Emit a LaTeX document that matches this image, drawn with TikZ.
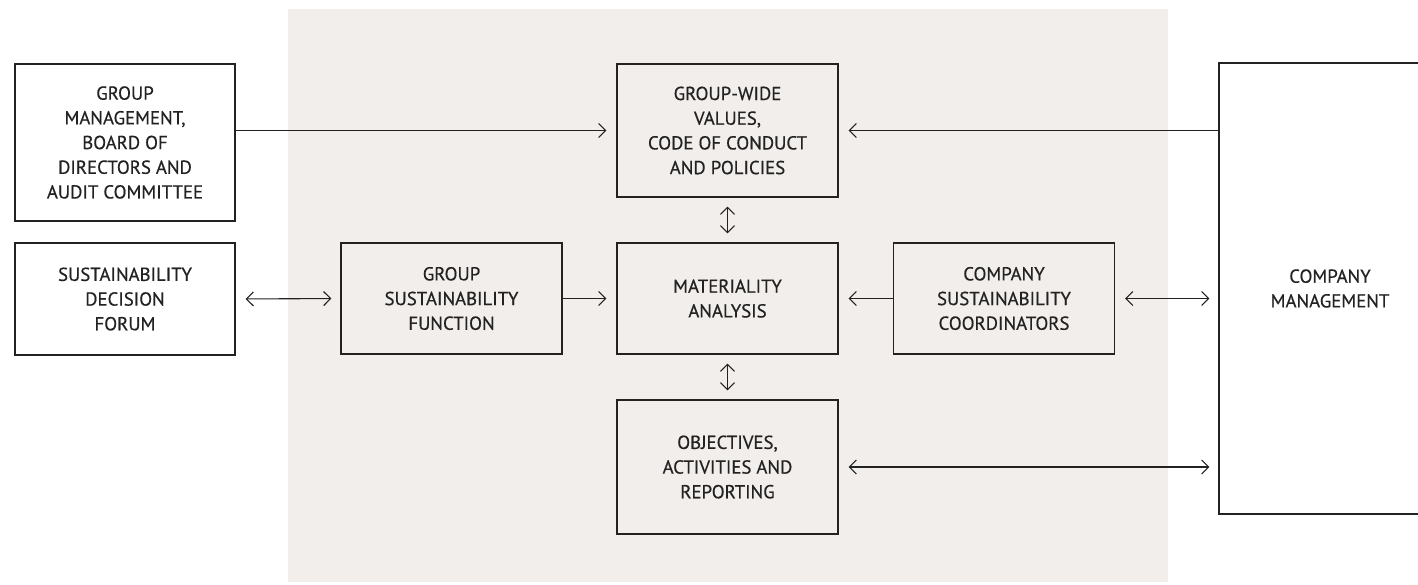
\documentclass[tikz,border=0pt]{standalone}
\usepackage{fontspec}
\setmainfont{PT Sans}
\newfontfamily\boxFont[FakeBold=0.5]{PT Sans}
\usetikzlibrary{arrows.meta}
\definecolor{panelBeige}{HTML}{F2EEEB}
\definecolor{lineGrey}{HTML}{222222}
\newcommand{\boxText}[1]{\boxFont\fontsize{18.8}{24.7}\selectfont #1}

\begin{document}
\begin{tikzpicture}[%%
  x=1pt,y=-1pt,
  boxStyle/.style={draw=lineGrey,line width=1.2pt,inner sep=0pt,align=center,
    minimum width=221pt,text=lineGrey,font=\boxText},%%
  outerStyle/.style={boxStyle,fill=white},%%
  arrowStyle/.style={line width=1.1pt,draw=lineGrey,
    arrows={-Straight Barb[length=7pt,width=14pt,line width=1.1pt]}},%%
  twoWayStyle/.style={arrowStyle,
    arrows={Straight Barb[length=7pt,width=14pt,line width=1.1pt]-Straight Barb[length=7pt,width=14pt,line width=1.1pt]}}
]
%%
%% Page size and the shaded panel.
\clip (0,0) rectangle (1418,584);
\fill[white] (0,0) rectangle (1418,584);
\fill[panelBeige] (288,9) rectangle (1168,582);
%%
%% Boxes outside the panel.
\node[outerStyle,minimum width=220pt,minimum height=157pt] (groupMgmt) at (125,142.5)
  {GROUP\\MANAGEMENT,\\BOARD OF\\DIRECTORS AND\\AUDIT COMMITTEE};
\node[outerStyle,minimum width=220pt,minimum height=112pt] (decisionForum) at (125,299)
  {SUSTAINABILITY\\DECISION\\FORUM};
\node[outerStyle,minimum width=222pt,minimum height=451pt] (companyMgmt) at (1330,288.5)
  {COMPANY\\MANAGEMENT};
%%
%% Boxes inside the panel.
\node[boxStyle,minimum height=133pt] (values) at (727.5,130.5)
  {GROUP-WIDE\\VALUES,\\CODE OF CONDUCT\\AND POLICIES};
\node[boxStyle,minimum height=111pt] (materiality) at (727.5,298.5)
  {MATERIALITY\\ANALYSIS};
\node[boxStyle,minimum height=134pt] (objectives) at (727.5,467)
  {OBJECTIVES,\\ACTIVITIES AND\\REPORTING};
\node[boxStyle,minimum height=111pt] (groupFunction) at (451.5,298.5)
  {GROUP\\SUSTAINABILITY\\FUNCTION};
\node[boxStyle,minimum height=111pt] (coordinators) at (1004,298.5)
  {COMPANY\\SUSTAINABILITY\\COORDINATORS};
%%
%% Connectors.
\draw[arrowStyle,shorten >=10pt] (groupMgmt.east |- values.west) -- (values.west);
\draw[arrowStyle,shorten >=10pt] (companyMgmt.west |- values.east) -- (values.east);
\draw[twoWayStyle,shorten >=9pt,shorten <=9pt] (values.south) -- (materiality.north);
\draw[twoWayStyle,shorten >=9pt,shorten <=9pt] (materiality.south) -- (objectives.north);
\draw[twoWayStyle,shorten >=9pt,shorten <=10pt] (decisionForum.east) -- (groupFunction.west);
\draw[arrowStyle,shorten >=10pt] (groupFunction.east) -- (materiality.west);
\draw[arrowStyle,shorten >=10pt] (coordinators.west) -- (materiality.east);
\draw[twoWayStyle,shorten >=9pt,shorten <=10pt] (coordinators.east) -- (coordinators.east -| companyMgmt.west);
\draw[twoWayStyle,shorten >=9pt,shorten <=10pt] (objectives.east) -- (objectives.east -| companyMgmt.west);
\end{tikzpicture}
\end{document}
